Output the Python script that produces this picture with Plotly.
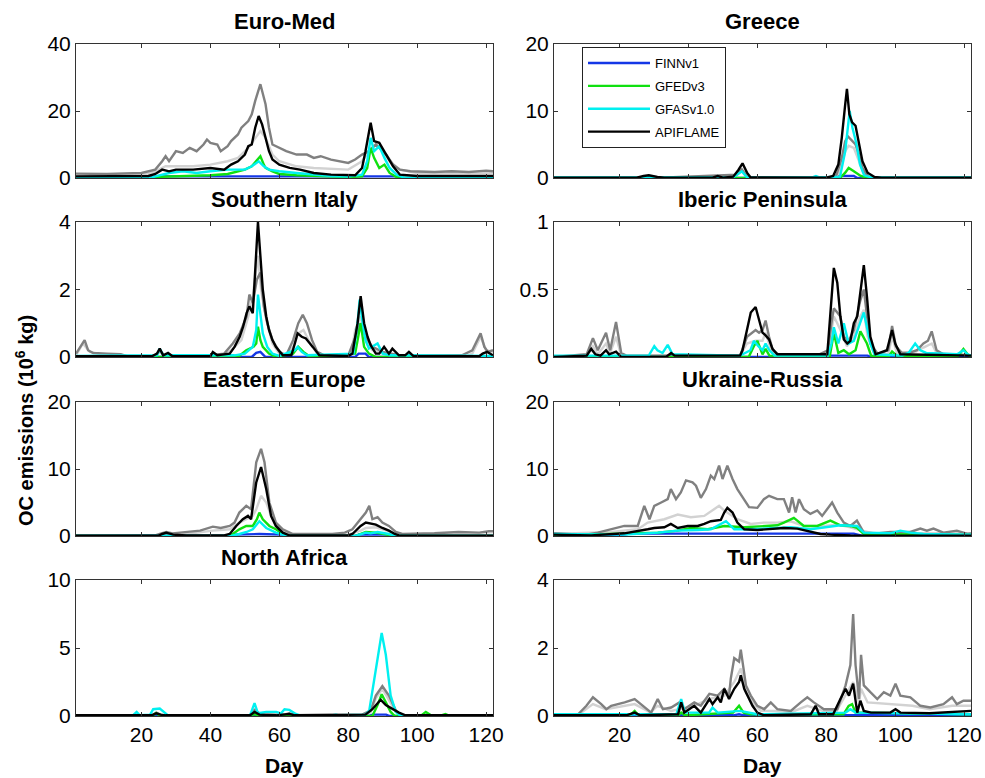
import plotly.graph_objects as go

# ---------------- data: (day, value) pairs ----------------
# Euro-Med (0-40)
EUROMED_LIGHT = [(1,0.7),(20,0.8),(24,2),(27,3.5),(35,3.5),(40,4),(45,5),(48,6),(51,9),(53,12),(54.5,14),(56,12),(58,7),(60,5),(65,3.5),(70,3),(80,2.5),(84,5),(86,8),(88,10),(90,8),(92,5),(95,2.5),(100,1.5),(122,1.5)]
EUROMED_DARK = [(1,1.3),(10,1.2),(20,1.5),(24,2.5),(26,5),(27,6.5),(28,5),(30,8),(32,7.5),(34,9),(36,8),(38,10),(39,11.5),(40,10.5),(42,10),(43,8),(45,9.5),(46,11),(48,13),(49,15),(51,17),(52,19),(53,23),(54.5,28),(56,22),(57,15),(58,10),(60,9),(62,8),(65,7),(68,7),(70,6),(72,6.5),(75,5.5),(78,5),(80,4.5),(82,5.5),(84,7),(86,8),(88,10),(89,9),(91,7),(93,4),(95,2.5),(98,2),(105,1.8),(110,2),(115,1.8),(120,2.2),(122,2)]
EUROMED_FINN = [(1,0),(22,0),(24,0.5),(95,0.5),(96,0),(122,0)]
EUROMED_GFED = [(1,0),(23,0),(24,0.3),(30,0.5),(40,0.8),(45,1.2),(48,2),(50,2.5),(52,3.5),(54.5,6.5),(55.5,4),(56,3),(58,2),(60,1.2),(65,0.8),(70,0.6),(80,0.3),(84,0.5),(85.5,3),(86.5,9),(87.5,6),(89,3),(90.5,4),(92,1.5),(94,0.3),(96,0),(122,0)]
EUROMED_GFAS = [(1,0),(23,0.1),(24,0.5),(28,1.5),(32,2),(36,1.5),(40,2),(45,2.5),(50,2.5),(52,3.5),(54,5),(55.5,3.5),(57,2.5),(60,2),(65,1.5),(70,1),(75,0.6),(80,0.4),(84,1),(85.5,5),(86.5,12),(87.5,8),(89,9.5),(90.5,6),(92,3),(94,1),(96,0.2),(122,0.1)]
EUROMED_APIFLAME = [(1,0.5),(22,0.6),(24,1.2),(26,2.5),(28,2),(30,2.5),(35,2.5),(40,3),(44,2.5),(46,4),(48,5),(49,6),(50,7),(51,9.5),(52,10),(53,15),(54,18.5),(55,16),(56,12),(57,8),(58,5.5),(60,4),(63,3),(66,2.5),(70,1.5),(75,1),(82,0.8),(84,3),(85,8),(86.5,16.5),(87.5,11),(89,10.5),(91,7),(93,3.5),(95,1),(100,0.6),(122,0.6)]

# Greece (0-20)
GREECE_LIGHT = [(1,0),(53,0),(54,0.4),(55.5,1),(57,0.1),(58,0),(83,0),(84,1),(85.5,4),(86.5,4.8),(88,4.5),(89.5,2.5),(91,0.5),(92,0),(122,0)]
GREECE_DARK = [(1,0),(27,0),(28.5,0.3),(30,0),(54,0.5),(55.5,1.3),(57,0.2),(58,0),(82,0),(83,0.5),(84.5,3),(85.5,5.5),(86.3,6.2),(87.5,5.5),(88.5,5),(89.5,3.5),(90.5,1.5),(92,0.3),(93,0),(122,0)]
GREECE_FINN = [(1,0),(83,0),(84,0.3),(88,0.3),(89,0),(122,0)]
GREECE_GFED = [(1,0),(84,0),(85.5,0.8),(86.5,1.5),(88,1),(90,0.3),(92,0),(122,0)]
GREECE_GFAS = [(1,0.1),(53,0.1),(55.5,1.0),(57,0.1),(76,0.1),(77,0.3),(78,0.1),(84,0.2),(85.5,4),(86.8,10),(87.6,7.5),(88.8,5),(89.8,2),(91,0.4),(93,0.1),(122,0.1)]
GREECE_APIFLAME = [(1,0.05),(25,0.05),(27,0.3),(28.5,0.4),(31,0.15),(33,0.05),(47,0.05),(48.5,0.3),(50,0.05),(53,0.2),(54.5,1.2),(55.7,2.2),(57,0.8),(58,0.1),(80,0.05),(82,0.3),(83.5,2),(84.5,6),(85.5,11),(86,13.3),(86.7,9.5),(87.5,8.3),(88.5,7.8),(89.5,5),(90.5,2.5),(92,0.8),(94,0.15),(96,0.05),(122,0.05)]

# Southern Italy (0-4)
SITALY_LIGHT = [(1,0.05),(3,0.4),(5,0.15),(10,0.05),(24,0.02),(25.3,0.15),(27,0.02),(44,0.05),(46,0.2),(49,0.5),(51,1.2),(52.3,1.8),(53.8,3.0),(54.7,2.0),(55.5,1.5),(56.5,1.0),(58,0.4),(60,0.1),(62,0.03),(64,0.3),(65.5,0.7),(67,0.8),(69,0.4),(71,0.1),(73,0.03),(80,0.03),(81.2,0.3),(82,0.8),(83.6,1.2),(85,0.5),(87,0.2),(90,0.1),(95,0.02),(114,0.02),(116,0.1),(118.4,0.6),(120,0.2),(122,0.15)]
SITALY_DARK = [(1,0.1),(2.5,0.35),(3.5,0.5),(4.5,0.2),(6,0.12),(10,0.1),(14,0.08),(16,0.02),(24,0.02),(25.3,0.2),(26.5,0.05),(30,0.05),(40,0.05),(44,0.1),(46.5,0.4),(48.5,0.7),(50.5,1.2),(51.3,1.85),(52.3,1.6),(53.5,2.3),(54.5,2.5),(55.5,1.5),(56.5,1.0),(58,0.5),(60,0.15),(62,0.05),(64,0.5),(65.5,1.0),(66.8,1.25),(68,1.0),(69.5,0.5),(71,0.15),(73,0.05),(80,0.05),(82,0.6),(83.6,1.0),(85,0.6),(87,0.3),(90,0.15),(95,0.05),(113,0.05),(116,0.2),(118.4,0.7),(119.5,0.3),(120.5,0.15),(122,0.2)]
SITALY_FINN = [(1,0),(52,0),(53.3,0.12),(54.5,0.15),(55.5,0.05),(56,0),(82,0),(83,0.1),(85,0.1),(86,0),(122,0)]
SITALY_GFED = [(1,0),(48,0),(50.4,0.2),(52.5,0.3),(53.3,0.4),(53.8,0.9),(54.5,0.5),(55.2,0.3),(57,0.1),(59,0),(64,0.1),(65.5,0.3),(67,0.15),(69,0),(82,0.1),(83,0.6),(83.6,1.0),(84.6,0.3),(86,0.1),(88,0),(122,0)]
SITALY_GFAS = [(1,0.03),(24.5,0.05),(25.3,0.25),(26.3,0.05),(47,0.05),(50,0.1),(52.3,0.3),(53.3,0.8),(53.8,1.85),(54.5,1.2),(55.2,0.7),(56.5,0.3),(58,0.1),(60,0.03),(64.5,0.2),(65.3,0.3),(66.5,0.15),(68,0.05),(81.5,0.1),(82.7,1.0),(83.3,1.7),(84.2,1.0),(85,0.5),(86,0.25),(88.5,0.4),(90,0.1),(92,0.05),(122,0.03)]
SITALY_APIFLAME = [(1,0.02),(23,0.02),(24.5,0.1),(25.3,0.25),(26.3,0.05),(27.7,0.12),(29,0.02),(40,0.02),(40.7,0.15),(42,0.05),(45.6,0.1),(47,0.3),(48.5,0.6),(49.5,0.9),(50.5,1.3),(51.3,1.5),(52.3,1.3),(53.3,3),(53.8,4),(54.5,3),(55.2,2),(56.2,1.2),(57,0.8),(58,0.5),(59,0.3),(61,0.05),(63.5,0.05),(64.5,0.4),(65.3,0.7),(66.5,0.6),(67.7,0.55),(69.7,0.3),(71.6,0.05),(80,0.03),(81.2,0.1),(82.7,1.0),(83.6,1.8),(84.6,1.0),(85.6,0.6),(86.5,0.35),(88,0.1),(89,0.1),(90.4,0.3),(91.8,0.1),(92.8,0.25),(94.7,0.05),(96.5,0.05),(97.6,0.15),(99,0.02),(118,0.02),(119,0.1),(120.3,0.15),(122,0.05)]

# Iberic Peninsula (0-1)
IBERIA_LIGHT = [(1,0),(10.5,0.01),(12.3,0.08),(13.7,0.02),(16.1,0.1),(17.3,0.03),(19,0.15),(20.5,0.01),(55,0.01),(57,0.1),(59.5,0.12),(61.5,0.12),(62.4,0.18),(64,0.05),(66,0.01),(80,0.01),(81.2,0.15),(82.2,0.3),(83.2,0.25),(84.1,0.2),(86,0.08),(88,0.15),(89.9,0.3),(90.9,0.35),(92,0.15),(94,0.02),(98,0.02),(99.1,0.15),(100.5,0.03),(106,0.04),(108.2,0.07),(110.6,0.1),(112,0.03),(122,0.01)]
IBERIA_DARK = [(1,0),(10.5,0.02),(12.3,0.14),(13.7,0.05),(16.1,0.18),(17.3,0.05),(19,0.26),(20.5,0.03),(22,0.01),(55,0.01),(57,0.15),(59.5,0.2),(60.5,0.18),(61.5,0.2),(62.4,0.27),(63.4,0.15),(64.5,0.05),(66,0.02),(78,0.02),(80.5,0.05),(81.5,0.25),(82.2,0.36),(83.2,0.33),(84.1,0.3),(85.1,0.15),(86.5,0.12),(88,0.2),(89.9,0.42),(90.9,0.5),(91.8,0.3),(92.8,0.1),(95,0.02),(98,0.05),(99.1,0.23),(100.2,0.08),(102,0.03),(104,0.03),(106.3,0.05),(108.2,0.1),(109.5,0.12),(110.6,0.19),(112,0.05),(114,0.02),(118,0.02),(122,0.01)]
IBERIA_FINN = [(1,0),(80,0),(81,0.01),(92,0.01),(93,0),(122,0)]
IBERIA_GFED = [(1,0),(57.5,0),(59,0.08),(60,0.12),(61.5,0.02),(62.4,0.06),(63.5,0.01),(81,0),(82.2,0.18),(83.5,0.03),(85.1,0.05),(86.6,0.02),(88.5,0.05),(89.9,0.19),(91.8,0.1),(93,0.01),(98,0),(99.1,0.04),(100.5,0.01),(118,0),(119.8,0.06),(121,0.02),(122,0)]
IBERIA_GFAS = [(1,0.01),(28.5,0.01),(30.1,0.08),(31,0.05),(32.5,0.03),(34,0.09),(35.4,0.02),(55,0.01),(58,0.05),(59,0.12),(60.3,0.08),(61.5,0.05),(62.4,0.1),(63.5,0.05),(65,0.01),(80.5,0.01),(81.5,0.1),(82.2,0.22),(83.5,0.1),(84.5,0.2),(85.1,0.25),(86.5,0.1),(88,0.12),(90.9,0.33),(92,0.2),(92.8,0.1),(94,0.02),(102,0.01),(103.9,0.03),(105.8,0.1),(107.3,0.05),(109,0.03),(118,0.02),(119.8,0.05),(121,0.02),(122,0.01)]
IBERIA_APIFLAME = [(1,0),(10.5,0.01),(11.8,0.06),(13,0.02),(14.5,0.01),(16.1,0.05),(17,0.02),(19,0.04),(20.5,0),(33.5,0),(35,0.03),(36,0.01),(40.7,0.01),(55,0.01),(55.7,0.05),(57.1,0.2),(58.1,0.33),(59.5,0.37),(60.5,0.28),(61.5,0.18),(62.4,0.16),(63.4,0.13),(64.4,0.06),(65.8,0.02),(80.3,0.02),(81.2,0.3),(82.2,0.66),(83.2,0.55),(84.1,0.3),(85.1,0.13),(86.1,0.1),(87,0.12),(88,0.25),(89,0.3),(89.9,0.5),(90.9,0.68),(91.8,0.45),(92.8,0.15),(94.3,0.02),(97.6,0.05),(99.1,0.2),(100,0.1),(101.5,0.02),(122,0.01)]

# Eastern Europe (0-20)
EEUROPE_LIGHT = [(1,0.05),(25,0.05),(27.2,0.3),(33,0.3),(40.7,0.8),(45.6,1.0),(48.4,2),(50.4,2.5),(52.3,3),(53.3,4),(54.7,6),(56.2,5),(57.6,3),(59,1.5),(61,0.6),(64,0.2),(80,0.2),(83.6,0.8),(85.1,1.2),(88,1.3),(90,1.0),(92,0.6),(95,0.2),(122,0.2)]
EEUROPE_DARK = [(1,0.1),(24,0.1),(25.3,0.3),(27.2,0.6),(29,0.4),(33,0.6),(37,0.8),(40.7,1.4),(43,1.2),(45.6,1.5),(47,2),(48.4,3.5),(50.4,4.5),(51.8,4),(53.3,11),(54.7,13),(55.7,11),(57.1,5),(59,2),(61,1),(63.9,0.3),(75.4,0.3),(79,0.5),(81.2,1.0),(83.6,2.5),(85.1,3.5),(86.1,4.5),(87,2.5),(88.5,2.8),(89.9,2),(91.8,1.5),(93.8,0.6),(95.7,0.3),(105,0.4),(112,0.6),(118,0.5),(120.8,0.7),(122,0.7)]
EEUROPE_FINN = [(1,0),(25,0),(26,0.1),(45,0.1),(47,0.2),(54.2,0.3),(61,0.2),(62,0),(82,0),(83,0.2),(92,0.2),(93,0),(122,0)]
EEUROPE_GFED = [(1,0),(45,0),(46.5,0.3),(48.4,1.0),(50.4,1.5),(52.3,1.5),(53.5,2.5),(54.2,3.5),(55.2,2.5),(57.1,1.5),(59,1.0),(61,0.3),(63,0),(82,0),(84,0.4),(85.1,0.6),(88,0.5),(91.8,0.2),(93.5,0),(122,0)]
EEUROPE_GFAS = [(1,0),(46,0),(48.4,0.3),(50.5,0.6),(52.3,1.0),(54.2,2.2),(56.2,1.2),(59,0.5),(61,0.2),(63,0),(82,0),(83.6,0.3),(85.1,0.5),(86.5,0.4),(88.5,0.6),(91.8,0.3),(93.5,0),(122,0)]
EEUROPE_APIFLAME = [(1,0.05),(25,0.05),(26,0.3),(27.2,0.5),(29.2,0.2),(33,0.1),(44,0.1),(45.6,0.3),(47.5,1.5),(49.4,2.5),(50.9,3),(51.8,2.5),(53.3,8),(54.7,10.3),(56.2,7),(57.6,3),(59,1.5),(61,0.5),(62.9,0.1),(80,0.1),(81.2,0.3),(83.6,1.5),(85.1,2.0),(86.5,1.8),(88,1.7),(89.9,1.2),(91.8,0.8),(93.5,0.3),(94.7,0.1),(122,0.05)]

# Ukraine-Russia (0-20)
UKRRUS_LIGHT = [(1,0.3),(17.6,0.6),(25.3,1),(28.2,2),(33,2.5),(36.9,3.2),(40.7,2.8),(44.6,3),(48.9,4.5),(50.4,3.8),(54.2,2.5),(58.1,1.8),(61.9,2),(65.8,2),(69.7,2.2),(73.5,1.5),(79.3,1.5),(83.2,1.7),(87,1.3),(88.9,1.0),(93.8,0.4),(122,0.4)]
UKRRUS_DARK = [(1,0.4),(5,0.3),(9.9,0.15),(13.7,0.5),(17.6,1.0),(21.4,1.5),(25.3,1.5),(27.2,4.5),(28.7,2.5),(30.1,4.5),(32.1,5),(34,5.5),(34.9,7),(36.4,5.5),(37.8,6.5),(39.3,8.3),(41.2,8),(42.2,7.5),(43.6,5.7),(45.1,7),(46.5,9),(47.5,8.5),(48.9,10.5),(49.9,8.5),(51.3,10.5),(52.8,8.5),(54.2,7),(56.2,5.5),(57.6,4.3),(60,4.2),(61.9,5.5),(63.4,6.0),(65.8,5.5),(67.7,5.5),(69.2,3.5),(70.1,5.8),(71.1,3.5),(72.1,5.5),(73.5,4),(75.4,3.3),(77.4,3.8),(78.8,3),(80.3,4),(81.7,5),(83.2,3.5),(85.1,2),(87,1.5),(88.9,2.3),(90.9,0.5),(94.7,0.4),(98.6,0.6),(104.4,0.6),(107.3,1.1),(109.2,0.8),(111.1,1.1),(114,0.5),(117.9,0.8),(121,0.3),(122,0.4)]
UKRRUS_FINN = [(1,0.1),(20,0.1),(23,0.35),(88,0.35),(90,0.1),(122,0.05)]
UKRRUS_GFED = [(1,0.1),(21.4,0.3),(31.1,0.5),(36.9,0.8),(40.7,1.2),(45.6,1.0),(50.4,1.5),(56.2,1.3),(61.9,1.5),(65.8,1.6),(67.7,2),(69.7,2.5),(70.6,2.7),(73.5,1.5),(77.4,1.5),(81.2,2.3),(84.1,1.6),(87,1.5),(88.9,1.2),(90.9,0.3),(122,0.15)]
UKRRUS_GFAS = [(1,0.3),(21.4,0.2),(31.1,0.5),(36.9,0.8),(42.7,0.9),(46.5,1.0),(50.9,2.2),(53.3,1.0),(58.1,1.0),(63.9,1.1),(69.7,1.3),(75.4,1.0),(79.3,1.3),(84.1,1.6),(88.9,1.5),(90.9,0.5),(98.6,0.4),(101.5,0.8),(104.4,0.5),(108.2,0.3),(122,0.2)]
UKRRUS_APIFLAME = [(1,0.2),(11.8,0.1),(21.4,0.4),(25.3,0.7),(28.2,1.0),(30.1,1.2),(33,1.3),(34.9,1.8),(36.9,1.2),(39.8,1.5),(42.7,1.5),(44.6,1.8),(46.5,2.2),(49.4,2.4),(50.4,3.5),(51.3,4.2),(52.8,3.5),(54.2,2),(56.2,1.0),(60,0.9),(63.9,1.0),(67.7,1.2),(71.6,1.1),(75.4,0.7),(78.3,0.3),(81.2,0.2),(87,0.1),(122,0.05)]

# North Africa (0-10)
NAFRICA_LIGHT = [(1,0.03),(23,0.03),(24.3,0.15),(26,0.03),(51.5,0.03),(52.8,0.35),(54.5,0.1),(56,0.03),(61.5,0.05),(62.9,0.15),(65,0.03),(85,0.03),(86.5,0.3),(88,1.3),(89.9,2.0),(91.8,1.2),(93.8,0.3),(95.5,0.03),(122,0.03)]
NAFRICA_DARK = [(1,0.05),(23,0.05),(24.3,0.25),(26,0.05),(51.5,0.05),(52.8,0.45),(54.5,0.15),(56,0.1),(61.5,0.1),(62.9,0.2),(65,0.05),(84,0.1),(86.5,0.4),(88,1.5),(89.9,2.2),(91.8,1.5),(93.8,0.4),(95.5,0.05),(122,0.05)]
NAFRICA_FINN = [(1,0),(86,0),(87,0.1),(91,0.1),(92,0),(122,0)]
NAFRICA_GFED = [(1,0),(23,0),(24.3,0.2),(25.5,0),(51.5,0),(52.8,0.15),(54,0),(87,0),(88.5,0.8),(89.7,1.6),(90.9,1.0),(92.3,0.3),(93.5,0),(101,0),(102.5,0.3),(104,0.05),(107,0.05),(108.2,0.15),(109.5,0),(122,0)]
NAFRICA_GFAS = [(1,0.05),(17.5,0.05),(18.6,0.3),(19.5,0.05),(22.5,0.1),(23.4,0.5),(25.3,0.55),(26.8,0.2),(27.7,0.05),(51.5,0.05),(52.8,0.95),(53.8,0.2),(56.2,0.3),(59.1,0.3),(60.5,0.2),(61.5,0.5),(62.9,0.45),(64.8,0.15),(66,0.05),(75,0.05),(76.4,0.1),(77.5,0.05),(85,0.1),(86.1,0.4),(88,3.5),(89.7,6.1),(90.9,4.5),(92.3,1.5),(93.8,0.3),(95,0.05),(122,0.05)]
NAFRICA_APIFLAME = [(1,0.05),(23,0.05),(24.3,0.2),(25.5,0.1),(27,0.05),(44,0.05),(45.6,0.1),(47,0.05),(51.5,0.05),(52.8,0.3),(54.2,0.1),(59,0.05),(61.5,0.1),(62.9,0.15),(64.5,0.05),(85,0.1),(87,0.5),(89.4,1.2),(90.9,0.8),(92.8,0.5),(94.7,0.25),(96.6,0.05),(122,0.05)]

# Turkey (0-4)
TURKEY_LIGHT = [(1,0.02),(8,0.03),(12.3,0.35),(16,0.2),(24.4,0.35),(29,0.1),(31,0.3),(35,0.15),(41.7,0.3),(46,0.5),(50.4,0.6),(53.3,1.0),(55.2,1.4),(56.7,0.7),(58.5,0.4),(61,0.15),(65,0.15),(70,0.12),(74.5,0.3),(79,0.15),(83,0.15),(85.6,0.6),(87.8,1.0),(89.5,0.4),(90.1,0.8),(92,0.4),(100,0.35),(105,0.3),(110,0.2),(116.5,0.3),(122,0.3)]
TURKEY_DARK = [(1,0.02),(8,0.05),(10.4,0.3),(12.3,0.55),(14.7,0.35),(16.2,0.2),(17.6,0.3),(21.5,0.4),(24.4,0.5),(26.3,0.35),(29.2,0.1),(31.1,0.5),(32.6,0.2),(35,0.25),(37.4,0.4),(38.8,0.2),(41.7,0.4),(43.6,0.3),(46.1,0.65),(48.5,0.6),(50.4,0.8),(51.8,0.6),(52.3,1.1),(53.3,1.7),(54.7,1.6),(55.2,1.95),(56.7,0.9),(58.1,0.6),(60,0.3),(62,0.2),(63.9,0.4),(65.8,0.2),(69.7,0.15),(72.6,0.4),(74.5,0.55),(76.4,0.4),(79.3,0.2),(83.2,0.2),(85.6,0.9),(87,1.5),(87.8,3.0),(88.5,1.5),(89.5,0.5),(90.1,1.8),(90.9,0.9),(92.8,0.7),(94.8,0.5),(96.7,0.7),(98.6,0.6),(100.1,0.95),(101.5,0.6),(104.4,0.55),(107.3,0.3),(110.2,0.25),(114,0.35),(116.5,0.55),(117.9,0.35),(119.8,0.45),(122,0.45)]
TURKEY_FINN = [(1,0.02),(53,0.02),(54.7,0.05),(56,0.02),(122,0.02)]
TURKEY_GFED = [(1,0.02),(23,0.02),(24.4,0.15),(25.5,0.02),(37,0.02),(37.9,0.1),(39,0.02),(53,0.1),(54.7,0.3),(56,0.1),(58,0.05),(85,0.05),(86.5,0.3),(87.5,0.35),(88.5,0.1),(90.9,0.1),(122,0.05)]
TURKEY_GFAS = [(1,0.05),(36.5,0.05),(37.9,0.5),(39,0.1),(46,0.1),(47,0.25),(48.5,0.1),(55,0.15),(60,0.05),(85.6,0.1),(87,0.2),(88.5,0.1),(122,0.05)]
TURKEY_APIFLAME = [(1,0.02),(22,0.02),(24.4,0.1),(26,0.02),(37,0.05),(37.9,0.4),(38.8,0.1),(41.7,0.3),(43.6,0.1),(46.1,0.5),(47,0.35),(48.5,0.55),(49.4,0.4),(50.4,0.8),(51.8,0.5),(53.3,0.8),(54.7,1.0),(55.2,1.2),(56.2,0.8),(57.6,0.5),(58.6,0.3),(60,0.1),(62,0.02),(75.5,0.05),(76.9,0.3),(77.9,0.05),(82,0.05),(84.1,0.5),(85.6,0.8),(86.6,0.6),(87.8,0.95),(89,0.1),(89.9,0.45),(90.9,0.15),(93,0.1),(98.6,0.1),(100.1,0.2),(101.5,0.1),(110,0.08),(122,0.15)]

TITLES = ["Euro-Med", "Greece", "Southern Italy", "Iberic Peninsula",
          "Eastern Europe", "Ukraine-Russia", "North Africa", "Turkey"]
YMAX = [40, 20, 4, 1, 20, 20, 10, 4]
YTICKTEXT = [["0", "20", "40"], ["0", "10", "20"], ["0", "2", "4"], ["0", "0.5", "1"],
             ["0", "10", "20"], ["0", "10", "20"], ["0", "5", "10"], ["0", "2", "4"]]
XTICKS = [20, 40, 60, 80, 100, 120]

PANEL_DATA = [
    [EUROMED_LIGHT, EUROMED_DARK, EUROMED_FINN, EUROMED_GFED, EUROMED_GFAS, EUROMED_APIFLAME],
    [GREECE_LIGHT, GREECE_DARK, GREECE_FINN, GREECE_GFED, GREECE_GFAS, GREECE_APIFLAME],
    [SITALY_LIGHT, SITALY_DARK, SITALY_FINN, SITALY_GFED, SITALY_GFAS, SITALY_APIFLAME],
    [IBERIA_LIGHT, IBERIA_DARK, IBERIA_FINN, IBERIA_GFED, IBERIA_GFAS, IBERIA_APIFLAME],
    [EEUROPE_LIGHT, EEUROPE_DARK, EEUROPE_FINN, EEUROPE_GFED, EEUROPE_GFAS, EEUROPE_APIFLAME],
    [UKRRUS_LIGHT, UKRRUS_DARK, UKRRUS_FINN, UKRRUS_GFED, UKRRUS_GFAS, UKRRUS_APIFLAME],
    [NAFRICA_LIGHT, NAFRICA_DARK, NAFRICA_FINN, NAFRICA_GFED, NAFRICA_GFAS, NAFRICA_APIFLAME],
    [TURKEY_LIGHT, TURKEY_DARK, TURKEY_FINN, TURKEY_GFED, TURKEY_GFAS, TURKEY_APIFLAME],
]
SERIES_NAMES = ["APIFLAME low", "APIFLAME high", "FINNv1", "GFEDv3", "GFASv1.0", "APIFLAME"]
SERIES_COLORS = ["#d2d2d2", "#808080", "#1437e6", "#10e010", "#00f0f0", "#000000"]
IN_LEGEND = [False, False, True, True, True, True]

# ---------------- layout geometry ----------------
W, H = 985, 778
COL_PX = [(76, 493), (554, 971)]
ROW_PX = [(44, 178), (222, 357), (402, 536), (580, 716)]
FONT = "Liberation Sans, Arial, Helvetica, sans-serif"

fig = go.Figure()
layout = dict(
    template="none",
    width=W, height=H,
    margin=dict(l=0, r=0, t=0, b=0, pad=0, autoexpand=False),
    paper_bgcolor="white", plot_bgcolor="white",
    font=dict(family=FONT, color="black", size=21),
    showlegend=True,
    legend=dict(x=582 / W, y=1 - 47 / H, xanchor="left", yanchor="top",
                bordercolor="#222", borderwidth=1, bgcolor="white",
                font=dict(size=13, family=FONT), tracegroupgap=3,
                itemwidth=62, entrywidth=150, entrywidthmode="pixels"),
)
annotations = []

for i in range(8):
    r, c = divmod(i, 2)
    n = i + 1
    xs = "" if n == 1 else str(n)
    x0, x1 = COL_PX[c]
    y0, y1 = ROW_PX[r]
    for k in range(6):
        pts = PANEL_DATA[i][k]
        fig.add_trace(go.Scatter(
            x=[p[0] for p in pts], y=[p[1] for p in pts], mode="lines",
            name=SERIES_NAMES[k], legendgroup=SERIES_NAMES[k],
            showlegend=(i == 1 and IN_LEGEND[k]),
            line=dict(color=SERIES_COLORS[k], width=2.4),
            xaxis="x" + xs, yaxis="y" + xs, hoverinfo="skip"))
    layout["xaxis" + xs] = dict(
        domain=[x0 / W, x1 / W], anchor="y" + xs, range=[1, 122], automargin=False,
        tickmode="array", tickvals=XTICKS, ticktext=[str(v) for v in XTICKS],
        showticklabels=(r == 3), ticks="inside", ticklen=4, tickcolor="#333",
        showline=True, linecolor="#333", linewidth=1, mirror="ticks",
        showgrid=False, zeroline=False, tickfont=dict(size=21))
    layout["yaxis" + xs] = dict(
        domain=[1 - y1 / H, 1 - y0 / H], anchor="x" + xs, range=[0, YMAX[i]],
        automargin=False,
        tickmode="array", tickvals=[0, YMAX[i] / 2, YMAX[i]], ticktext=YTICKTEXT[i],
        ticks="inside", ticklen=4, tickcolor="#333",
        showline=True, linecolor="#333", linewidth=1, mirror="ticks",
        showgrid=False, zeroline=False, tickfont=dict(size=21))
    annotations.append(dict(
        text="<b>" + TITLES[i] + "</b>", xref="paper", yref="paper",
        x=(x0 + x1) / 2 / W, y=1 - y0 / H, xanchor="center", yanchor="bottom",
        yshift=8, showarrow=False, font=dict(size=22)))
    if r == 3:
        annotations.append(dict(
            text="<b>Day</b>", xref="paper", yref="paper",
            x=(x0 + x1) / 2 / W, y=1 - 765 / H, xanchor="center", yanchor="middle",
            showarrow=False, font=dict(size=21)))

annotations.append(dict(
    text="<b>OC emissions (10<sup>6</sup> kg)</b>", xref="paper", yref="paper",
    x=25 / W, y=1 - 421 / H, xanchor="center", yanchor="middle", textangle=-90,
    showarrow=False, font=dict(size=20)))
layout["annotations"] = annotations

fig.update_layout(**layout)
fig.write_html("out.html")
